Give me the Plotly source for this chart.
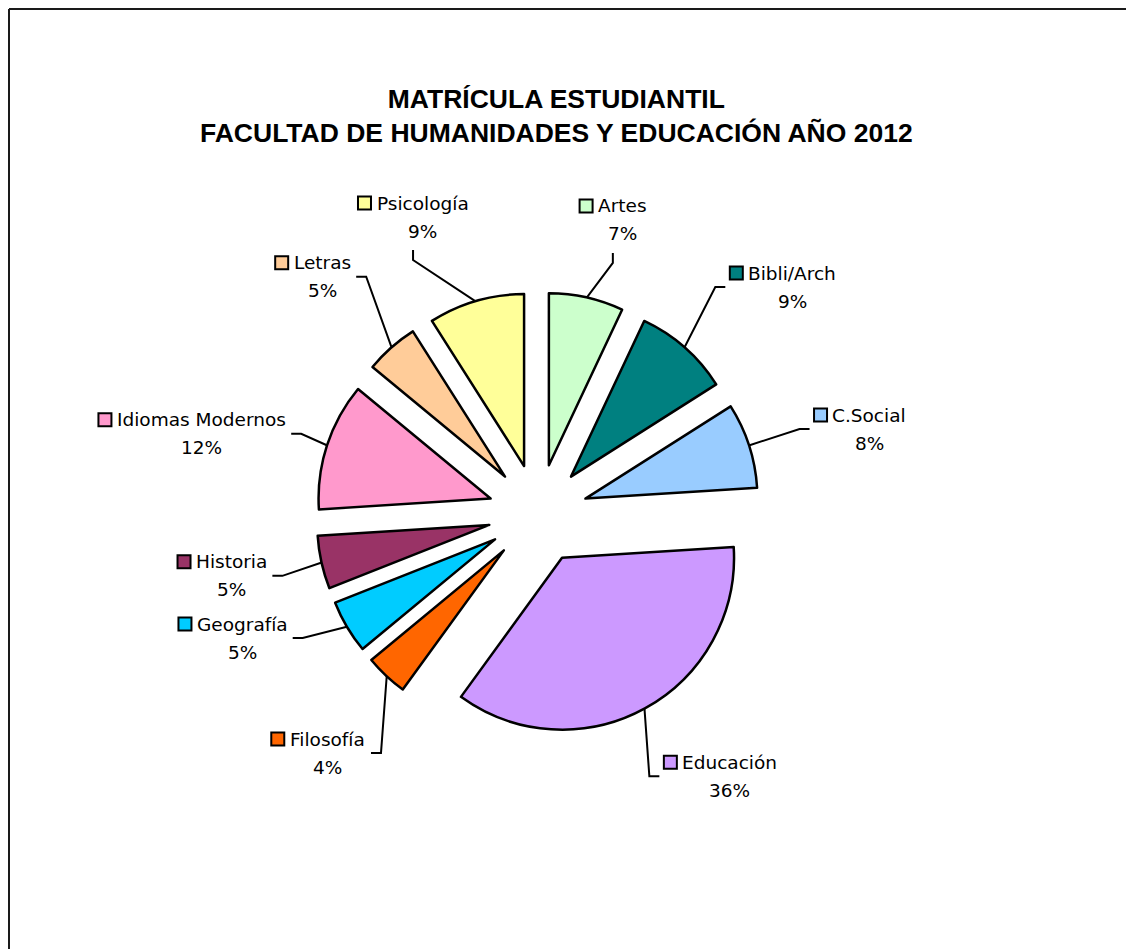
import math
import plotly.graph_objects as go

# data (share of enrolment, %)
categories = ["Artes", "Bibli/Arch", "C.Social", "Educación", "Filosofía",
              "Geografía", "Historia", "Idiomas Modernos", "Letras", "Psicología"]
percent = [7, 9, 8, 36, 4, 5, 5, 12, 5, 9]
colors = ["#CCFFCC", "#008080", "#99CCFF", "#CC99FF", "#FF6600",
          "#00CCFF", "#993366", "#FF99CC", "#FFCC99", "#FFFF99"]

title = "MATRÍCULA ESTUDIANTIL<br>FACULTAD DE HUMANIDADES Y EDUCACIÓN AÑO 2012"

# page / pie geometry in screen pixels (the page body adds an 8px margin)
W, H = 1134, 949
off = 8
cx, cy = 538, 514
radius = 172
pull = 0.29
font_px = 18.5
label_font = "DejaVu Sans, Verdana, sans-serif"

# where Excel parked each label: turn from slice middle (deg), distance from centre
label_turn = [4, -3.4, 0, 5.8, -9.9, 2.8, -1, 0.7, 5.5, -10]
label_reach = [262, 288, 275, 285, 286, 266, 263, 250, 293, 283]

# rough DejaVu Sans advance widths (em)
adv = {" ": .318, "%": .951, ".": .318, "/": .337, "A": .684, "B": .686, "C": .698,
       "E": .632, "F": .575, "G": .776, "H": .752, "I": .295, "L": .557, "M": .863,
       "P": .603, "S": .635, "a": .613, "c": .550, "d": .635, "e": .615, "f": .352,
       "g": .635, "h": .634, "i": .278, "í": .278, "l": .278, "m": .974, "n": .634,
       "o": .612, "ó": .612, "p": .635, "r": .411, "s": .521, "t": .392}


def text_width(s):
    return sum(adv.get(ch, 0.636) for ch in s) * font_px


fig = go.Figure()

outer = radius * (1 + pull)
fig.add_trace(go.Pie(
    labels=categories, values=percent, sort=False, direction="clockwise",
    rotation=0, pull=[pull] * len(percent), textinfo="none",
    marker=dict(colors=colors, line=dict(color="black", width=2.5)),
    domain=dict(x=[(cx - outer - off) / W, (cx + outer - off) / W],
                y=[1 - (cy + outer - off) / H, 1 - (cy - outer - off) / H]),
    showlegend=False, hoverinfo="label+percent",
))

total = sum(percent)
acc = 0
annotations = []
for i, p in enumerate(percent):
    mid = (acc + p / 2) / total * 2 * math.pi
    acc += p
    sx = cx + (outer - 1) * math.sin(mid)
    sy = cy - (outer - 1) * math.cos(mid)
    te = mid + math.radians(label_turn[i])
    ex = cx + label_reach[i] * math.sin(te)
    ey = cy - label_reach[i] * math.cos(te)
    w = text_width(categories[i])
    deg = math.degrees(te) % 360
    if deg < 30 or deg > 330:
        tx, ty = ex, ey - 10
        box_left = tx - (19 + w) / 2
        mx = box_left + 7
        name_x = box_left + 19 + w / 2
        name_y = ty - 47
        pct_y = ty - 19
    elif math.sin(te) > 0:
        tx, ty = ex + 10, ey
        mx = tx + 11
        name_x = tx + 23 + w / 2
        name_y = ty - 14
        pct_y = ty + 14
    else:
        tx, ty = ex - 10, ey
        name_x = tx - 5 - w / 2
        mx = tx - 5 - w - 12
        name_y = ty - 14
        pct_y = ty + 14

    fig.add_trace(go.Scatter(x=[sx, ex, tx], y=[sy, ey, ty], mode="lines",
                             line=dict(color="black", width=2),
                             hoverinfo="skip", showlegend=False))
    fig.add_trace(go.Scatter(x=[mx], y=[name_y], mode="markers",
                             marker=dict(symbol="square", size=13, color=colors[i],
                                         line=dict(color="black", width=2)),
                             hoverinfo="skip", showlegend=False))
    annotations.append(dict(x=name_x, y=name_y, text=categories[i], showarrow=False,
                            xanchor="center", yanchor="middle",
                            font=dict(family=label_font, size=font_px, color="black")))
    annotations.append(dict(x=name_x, y=pct_y, text="{}%".format(p), showarrow=False,
                            xanchor="center", yanchor="middle",
                            font=dict(family=label_font, size=font_px, color="black")))

annotations.append(dict(x=556, y=116, text="<b>" + title + "</b>", showarrow=False,
                        xanchor="center", yanchor="middle",
                        font=dict(family="Liberation Sans, Arial, sans-serif",
                                  size=26.5, color="black")))

fig.update_layout(
    width=W, height=H,
    margin=dict(l=0, r=0, t=0, b=0, pad=0),
    paper_bgcolor="white", plot_bgcolor="white",
    xaxis=dict(range=[off, W + off], visible=False, fixedrange=True, domain=[0, 1]),
    yaxis=dict(range=[H + off, off], visible=False, fixedrange=True, domain=[0, 1]),
    annotations=annotations,
    shapes=[
        dict(type="line", xref="x", yref="y", x0=off + 1, y0=off + 1, x1=W + off, y1=off + 1,
             line=dict(color="#1a1a1a", width=2)),
        dict(type="line", xref="x", yref="y", x0=off + 1, y0=off + 1, x1=off + 1, y1=H + off,
             line=dict(color="#1a1a1a", width=2)),
    ],
)

fig.write_html("out.html")
